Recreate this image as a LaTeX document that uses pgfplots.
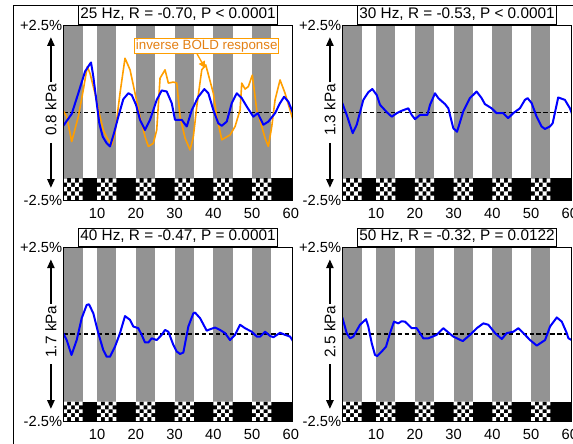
\documentclass[border=0pt]{standalone}
\usepackage{fontspec}
\setmainfont{Liberation Sans}
\usepackage{pgfplots}
\pgfplotsset{compat=1.18}
\usetikzlibrary{arrows.meta}
\definecolor{stripegray}{RGB}{147,147,147}
\definecolor{boldorange}{RGB}{255,158,0}
\definecolor{boldtext}{RGB}{228,128,20}
\definecolor{sigblue}{RGB}{0,0,255}

\pgfplotsset{panel/.style={
  scale only axis, width=172.1pt,
  xmin=1.3, xmax=60.5, ymin=-2.5, ymax=2.5,
  axis on top, clip mode=individual,
  xtick={10,20,30,40,50,60}, ytick={-2.5,2.5}, yticklabels={-2.5\%,+2.5\%},
  major tick length=0pt,
  /pgf/number format/assume math mode=true,
  tick label style={font=\fontsize{11}{13}\selectfont},
  xticklabel style={yshift=-2.5pt},
  yticklabel style={xshift=2.6pt},
  axis line style={line width=0.7pt},
  title style={at={(0.5,1)}, anchor=center, yshift=1.5pt, draw=black, fill=white,
    line width=0.6pt, inner xsep=1.5pt, inner ysep=2pt, text height=0.75em, text depth=0.25em,
    font=\fontsize{11.5}{13}\selectfont},
}}

% stimulus blocks
\newcommand{\stripes}[1]{%
  \addplot[fill=stripegray,draw=none,forget plot] coordinates {(1.3,#1)(1.3,2.5)(6.3,2.5)(6.3,#1)} -- cycle;
  \addplot[fill=stripegray,draw=none,forget plot] coordinates {(10,#1)(10,2.5)(15,2.5)(15,#1)} -- cycle;
  \addplot[fill=stripegray,draw=none,forget plot] coordinates {(20,#1)(20,2.5)(25,2.5)(25,#1)} -- cycle;
  \addplot[fill=stripegray,draw=none,forget plot] coordinates {(30,#1)(30,2.5)(35,2.5)(35,#1)} -- cycle;
  \addplot[fill=stripegray,draw=none,forget plot] coordinates {(40,#1)(40,2.5)(45,2.5)(45,#1)} -- cycle;
  \addplot[fill=stripegray,draw=none,forget plot] coordinates {(50,#1)(50,2.5)(55,2.5)(55,#1)} -- cycle;
  \addplot[fill=black,draw=none,forget plot] coordinates {(1.3,-2.5)(1.3,#1)(60.5,#1)(60.5,-2.5)} -- cycle;
  \cb{1.3}{2.3}{3.3}{4.3}{5.3}{6.3}
  \cb{10}{11}{12}{13}{14}{15}
  \cb{20}{21}{22}{23}{24}{25}
  \cb{30}{31}{32}{33}{34}{35}
  \cb{40}{41}{42}{43}{44}{45}
  \cb{50}{51}{52}{53}{54}{55}
  \addplot[black,line width=1.4pt,dash pattern=on 3.2pt off 2pt,forget plot] coordinates {(1.3,0)(60.5,0)};
}
\newcommand{\cb}[6]{%
\fill[white] (axis cs:#1,\cya) rectangle (axis cs:#2,\cyb)
 (axis cs:#1,\cyc) rectangle (axis cs:#2,\cyd)
 (axis cs:#1,\cye) rectangle (axis cs:#2,\cyf)
 (axis cs:#2,\cyb) rectangle (axis cs:#3,\cyc)
 (axis cs:#2,\cyd) rectangle (axis cs:#3,\cye)
 (axis cs:#3,\cya) rectangle (axis cs:#4,\cyb)
 (axis cs:#3,\cyc) rectangle (axis cs:#4,\cyd)
 (axis cs:#3,\cye) rectangle (axis cs:#4,\cyf)
 (axis cs:#4,\cyb) rectangle (axis cs:#5,\cyc)
 (axis cs:#4,\cyd) rectangle (axis cs:#5,\cye)
 (axis cs:#5,\cya) rectangle (axis cs:#6,\cyb)
 (axis cs:#5,\cyc) rectangle (axis cs:#6,\cyd)
 (axis cs:#5,\cye) rectangle (axis cs:#6,\cyf);}

\newcommand{\ylab}[1]{%
 \node[rotate=90, font=\fontsize{11.5}{13}\selectfont, inner sep=1pt] (yl) at ([xshift=-9.3pt]rel axis cs:0,0.515) {#1};
 \draw[line width=1.1pt, -{Triangle[length=6.5pt,width=5.5pt]}] (yl.east) -- ([xshift=-9.3pt]rel axis cs:0,0.93);
 \draw[line width=1.1pt, -{Triangle[length=6.5pt,width=5.5pt]}] ([yshift=-4pt]yl.west) -- ([xshift=-9.3pt]rel axis cs:0,0.07);}

\begin{document}
\begin{tikzpicture}
\useasboundingbox (0,0) rectangle (429.75pt,332.25pt);
\clip (0,0) rectangle (429.75pt,332.25pt);

\def\cya{-1.88}\def\cyb{-2.004}\def\cyc{-2.128}\def\cyd{-2.252}\def\cye{-2.376}\def\cyf{-2.5}
% ---- panel 1: 25 Hz
\begin{axis}[panel, at={(47.475pt,182.25pt)}, anchor=south west, height=131.25pt,
  title={25 Hz, R = -0.70, P < 0.0001}]
\stripes{-1.88}
\addplot[boldorange, line width=1.2pt, line join=round] coordinates {
(1.3,0.05)(2.18,-0.12)(3.47,-0.83)(5.17,-0.12)(6.46,0.65)(7.49,1.31)(8.19,1.12)(9.48,0.55)(10.77,-0.12)(11.62,-0.50)(12.5,-0.71)(13.79,-0.93)(14.64,-0.59)(15.93,0.55)(17.22,1.55)(18.52,1.22)(19.81,0.55)(21.09,-0.12)(22.38,-0.69)(23.24,-0.97)(24.53,-0.88)(25.4,-0.50)(26.26,0.98)(27.55,1.22)(28.4,0.84)(29.69,0.87)(30.57,0.84)(31.42,-0.12)(32.71,-0.73)(34.0,-1.07)(34.85,-0.69)(35.73,0.17)(37.02,1.22)(38.05,1.36)(40.01,0.55)(40.89,-0.12)(42.2,-0.78)(44.32,-0.64)(45.61,-0.40)(46.9,0.07)(47.34,0.84)(48.2,0.67)(49.04,0.74)(50.07,1.07)(51.21,0.07)(52.5,-0.40)(53.35,-0.73)(54.2,-0.97)(55.08,-0.40)(55.93,0.36)(57.22,0.93)(58.51,0.55)(59.8,0.07)(60.5,-0.19)};
\addplot[sigblue, line width=1.5pt, line join=round] coordinates {
(1.3,-0.38)(3.47,-0.04)(5.17,0.55)(6.9,1.17)(8.0,1.36)(8.45,1.43)(9.04,1.03)(9.92,0.27)(10.59,-0.31)(11.47,-0.69)(12.5,-0.88)(13.35,-0.97)(14.38,-0.59)(15.49,-0.12)(16.78,0.38)(18.07,0.55)(18.95,0.50)(20.06,0.22)(21.09,-0.21)(22.38,-0.50)(23.67,-0.21)(25.4,0.36)(26.69,0.63)(27.98,0.60)(29.27,0.27)(30.12,-0.21)(31.85,-0.21)(33.15,-0.40)(34.44,0.07)(36.14,0.45)(37.69,0.67)(38.72,0.55)(40.01,0.07)(41.3,-0.31)(42.18,-0.38)(43.47,-0.26)(44.76,0.27)(46.05,0.55)(47.34,0.41)(48.63,0.17)(50.33,-0.12)(51.47,-0.02)(52.91,-0.35)(54.2,-0.26)(55.93,-0.02)(57.22,0.27)(58.26,0.45)(59.36,0.31)(60.5,0.0)};
\node[draw=boldorange, fill=white, text=boldtext, font=\fontsize{10}{12}\selectfont, inner xsep=1pt, inner ysep=0.8pt, line width=0.6pt] at (axis cs:38.3,1.9) {inverse BOLD response};
\draw[boldorange, line width=1pt, -{Triangle[length=5pt,width=5pt]}] (axis cs:35.73,1.69) -- (axis cs:37.87,1.27);
\ylab{0.8 kPa}
\end{axis}

% ---- panel 2: 30 Hz
\begin{axis}[panel, at={(256.725pt,182.25pt)}, anchor=south west, height=131.25pt,
  title={30 Hz, R = -0.53, P < 0.0001}]
\stripes{-1.88}
\addplot[sigblue, line width=1.5pt, line join=round] coordinates {
(1.3,0.27)(2.44,-0.07)(3.98,-0.59)(5.02,-0.35)(6.72,0.36)(8.01,0.58)(9.04,0.67)(10.18,0.50)(11.03,0.22)(12.76,0.01)(14.05,-0.12)(15.34,-0.02)(16.63,0.05)(18.33,0.12)(19.21,-0.07)(20.06,-0.19)(21.35,-0.07)(23.24,-0.07)(23.93,0.22)(25.22,0.55)(26.07,0.41)(27.8,0.24)(28.65,0.12)(29.94,-0.45)(30.9,-0.55)(32.5,0.03)(34.22,0.41)(35.95,0.60)(37.24,0.41)(38.09,0.24)(39.82,0.12)(41.11,-0.02)(42.81,-0.02)(44.1,-0.16)(45.39,-0.02)(47.12,0.12)(48.41,0.36)(49.1,0.41)(50.14,0.27)(51.43,-0.12)(52.72,-0.40)(53.57,-0.47)(54.86,-0.40)(55.56,-0.31)(57.0,0.43)(58.73,0.36)(60.02,0.12)(60.5,-0.02)};
\ylab{1.3 kPa}
\end{axis}

\def\cya{-1.94}\def\cyb{-2.052}\def\cyc{-2.164}\def\cyd{-2.276}\def\cye{-2.388}\def\cyf{-2.5}
% ---- panel 3: 40 Hz
\begin{axis}[panel, at={(47.475pt,16.5pt)}, anchor=south west, height=130.3pt,
  title={40 Hz, R = -0.47, P = 0.0001}]
\stripes{-1.94}
\addplot[sigblue, line width=1.5pt, line join=round] coordinates {
(1.3,0.03)(2.18,-0.17)(3.42,-0.60)(4.76,-0.17)(6.05,0.46)(7.34,0.84)(7.93,0.86)(9.04,0.60)(10.33,0.03)(11.62,-0.46)(12.5,-0.65)(13.35,-0.65)(14.64,-0.36)(15.93,0.03)(17.22,0.52)(18.52,0.41)(19.36,0.22)(20.65,0.17)(21.53,-0.02)(22.38,-0.24)(23.24,-0.24)(24.11,-0.12)(25.4,-0.17)(26.69,-0.02)(27.55,0.12)(28.4,0.07)(29.69,-0.31)(30.57,-0.50)(31.42,-0.57)(32.27,-0.53)(33.56,0.22)(34.85,0.60)(35.29,0.62)(36.58,0.46)(38.3,0.10)(39.16,0.14)(40.45,0.19)(41.74,0.12)(43.03,0.03)(44.32,-0.17)(45.61,-0.02)(46.9,0.27)(48.2,0.17)(49.92,0.07)(51.21,-0.07)(52.07,-0.07)(53.35,0.07)(54.64,-0.05)(55.49,-0.09)(57.22,0.04)(58.51,-0.02)(59.8,-0.07)(60.5,-0.19)};
\ylab{1.7 kPa}
\end{axis}

% ---- panel 4: 50 Hz
\begin{axis}[panel, at={(256.725pt,16.5pt)}, anchor=south west, height=130.3pt,
  title={50 Hz, R = -0.32, P = 0.0122}]
\stripes{-1.94}
\addplot[sigblue, line width=1.5pt, line join=round] coordinates {
(1.3,0.48)(2.44,0.03)(3.29,-0.12)(4.14,-0.07)(5.87,0.27)(7.42,0.43)(8.01,0.22)(8.89,-0.26)(9.74,-0.60)(10.33,-0.63)(11.47,-0.50)(12.58,-0.36)(13.61,0.03)(14.64,0.36)(15.75,0.31)(16.58,0.37)(17.48,0.36)(19.21,0.17)(20.5,0.17)(22.2,-0.12)(23.49,-0.12)(25.66,-0.02)(27.36,0.17)(29.94,-0.07)(32.37,-0.20)(34.25,-0.02)(35.98,0.17)(37.69,0.31)(38.98,0.27)(40.71,0.03)(42.44,-0.14)(43.73,0.03)(45.43,0.07)(46.72,0.17)(48.01,0.03)(49.74,-0.17)(51.47,-0.33)(53.61,-0.17)(54.9,0.22)(56.63,0.48)(57.92,0.36)(59.21,0.03)(59.63,-0.12)(60.5,-0.17)};
\ylab{2.5 kPa}
\end{axis}

\draw[line width=0.75pt] (9.75pt,-2pt) -- (9.75pt,327.75pt) -- (440pt,327.75pt);
\end{tikzpicture}
\end{document}
